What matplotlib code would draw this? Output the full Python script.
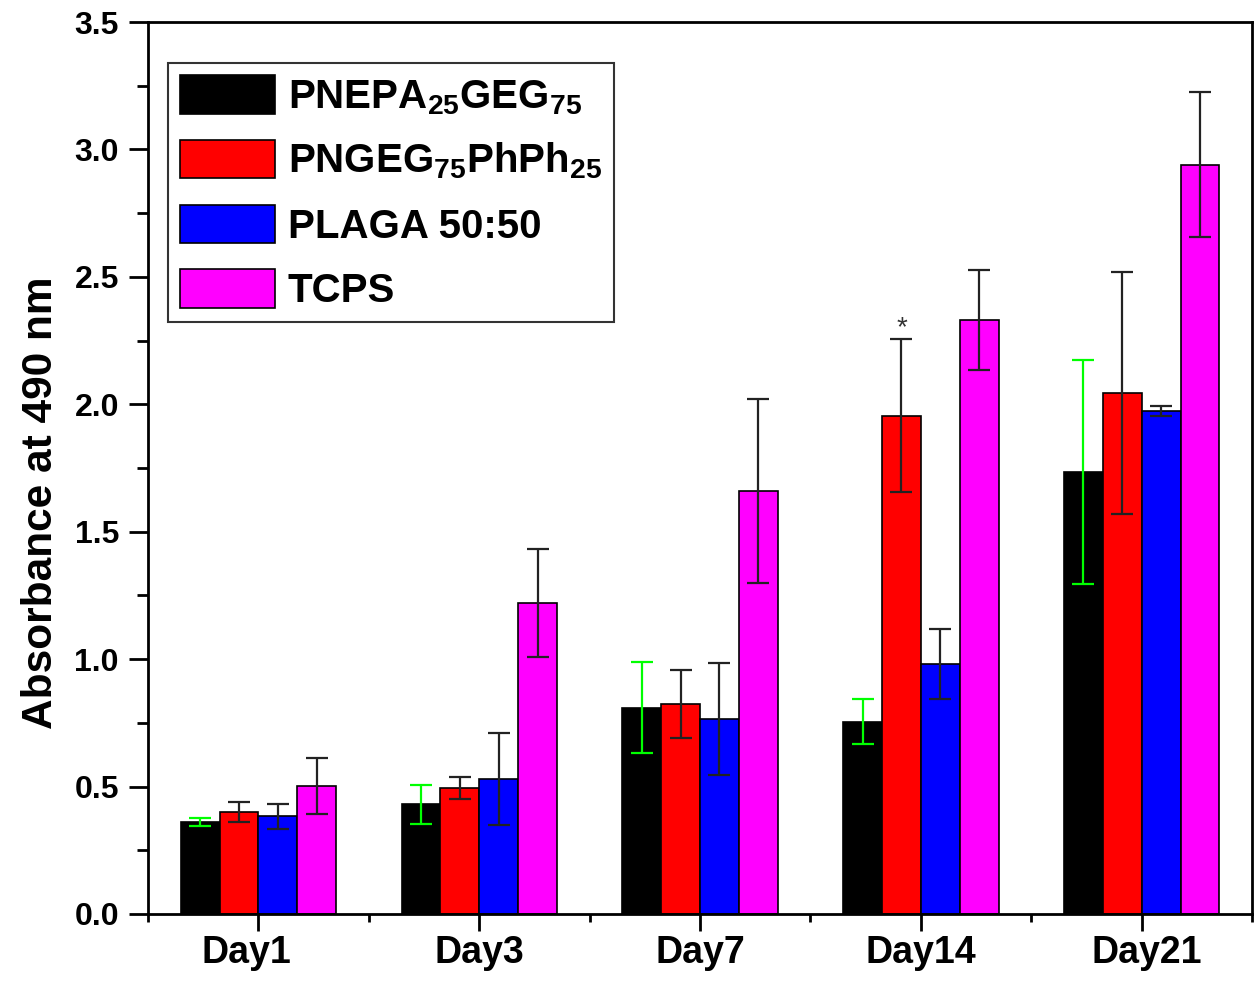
import matplotlib
matplotlib.use("Agg")
import matplotlib.pyplot as plt
import matplotlib.transforms as mtransforms
import numpy as np
from matplotlib.ticker import MultipleLocator, FixedLocator, FormatStrFormatter

# ── data ──────────────────────────────────────────────────────────────────────
days = ["Day1", "Day3", "Day7", "Day14", "Day21"]

pnepa     = [0.360, 0.430, 0.810, 0.755, 1.735]
pnepa_err = [0.016, 0.078, 0.180, 0.087, 0.440]

pngeg     = [0.400, 0.495, 0.825, 1.955, 2.045]
pngeg_err = [0.039, 0.043, 0.134, 0.300, 0.475]

plaga     = [0.383, 0.530, 0.765, 0.980, 1.975]
plaga_err = [0.049, 0.180, 0.220, 0.138, 0.020]

tcps      = [0.502, 1.220, 1.660, 2.330, 2.940]
tcps_err  = [0.110, 0.213, 0.360, 0.195, 0.285]

labels = [r"PNEPA$_{25}$GEG$_{75}$", r"PNGEG$_{75}$PhPh$_{25}$",
          "PLAGA 50:50", "TCPS"]
colors = ["#000000", "#FF0000", "#0000FF", "#FF00FF"]
err_colors = ["#00FF00", "#222222", "#222222", "#222222"]

# ── style ─────────────────────────────────────────────────────────────────────
plt.rcParams["font.family"] = ["Liberation Sans", "DejaVu Sans"]
plt.rcParams["font.weight"] = "bold"
plt.rcParams["axes.labelweight"] = "bold"
plt.rcParams["mathtext.fontset"] = "custom"
plt.rcParams["mathtext.rm"] = "Liberation Sans:bold"
plt.rcParams["mathtext.bf"] = "Liberation Sans:bold"
plt.rcParams["mathtext.it"] = "Liberation Sans:bold"

fig = plt.figure(figsize=(12.6, 9.91), dpi=100)
ax = fig.add_axes([0.1175, 0.0777, 0.8762, 0.9001])

x = np.arange(1, len(days) + 1)
w = 0.176
series = [(pnepa, pnepa_err), (pngeg, pngeg_err), (plaga, plaga_err), (tcps, tcps_err)]

for i, (vals, errs) in enumerate(series):
    xs = x + (i - 1.5) * w
    ax.bar(xs, vals, width=w, color=colors[i], edgecolor="black",
           linewidth=1.2, label=labels[i], zorder=2)
    ax.errorbar(xs, vals, yerr=errs, fmt="none", ecolor=err_colors[i],
                elinewidth=1.6, capsize=8, capthick=1.6, zorder=3)

# significance marker above PNGEG Day14
ax.text(x[3] - 0.5 * w, 2.30, "*", ha="center", va="center",
        fontsize=20, color="#333333", fontweight="normal")

ax.set_xlim(0.5, 5.5)
ax.set_ylim(0, 3.5)
ax.set_xticks(x)
ax.set_xticklabels(days)
ax.xaxis.set_minor_locator(FixedLocator(np.arange(0.5, 6.0, 1.0)))
ax.yaxis.set_major_locator(MultipleLocator(0.5))
ax.yaxis.set_minor_locator(MultipleLocator(0.25))
ax.yaxis.set_major_formatter(FormatStrFormatter("%.1f"))

ax.tick_params(axis="y", which="major", length=14, width=2, labelsize=23, pad=7)
ax.tick_params(axis="y", which="minor", length=8, width=2)
ax.tick_params(axis="x", which="major", length=12, width=2, labelsize=27, pad=3)
ax.tick_params(axis="x", which="minor", length=6, width=2)
ax.tick_params(top=False, right=False, which="both")

# the original's first and last day labels sit a little off their ticks
for lbl, dx in zip(ax.get_xticklabels(), [-12, 0, 0, 0, 5]):
    if dx:
        lbl.set_transform(lbl.get_transform() +
                          mtransforms.ScaledTranslation(dx / 100, 0, fig.dpi_scale_trans))

for sp in ax.spines.values():
    sp.set_linewidth(2)

ax.set_ylabel("Absorbance at 490 nm", fontsize=30.5)
ax.yaxis.set_label_coords(-0.079, 0.461)

leg = ax.legend(loc="upper left", bbox_to_anchor=(0.018, 0.954), borderaxespad=0,
                fontsize=29, frameon=True, fancybox=False, edgecolor="black",
                handlelength=2.36, handleheight=1.09, handletextpad=0.32,
                borderpad=0.3, labelspacing=0.58)
leg.get_frame().set_linewidth(1.5)

fig.savefig("out.png", dpi=100)
